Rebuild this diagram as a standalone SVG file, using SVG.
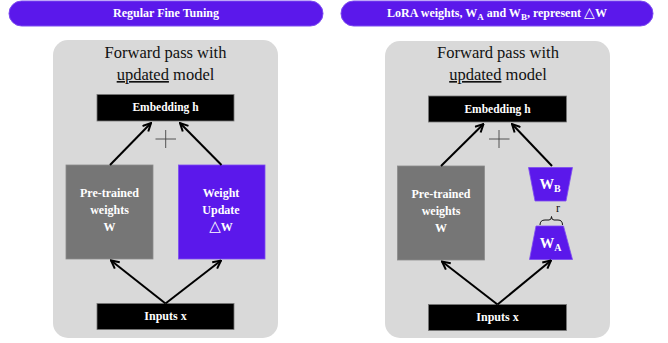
<svg xmlns="http://www.w3.org/2000/svg" width="668" height="343" viewBox="0 0 668 343">
<style>
.pill{fill:#5b18eb;stroke:#7d4cf0;stroke-width:1}
.hdr{font-family:"Liberation Serif",serif;font-weight:bold;font-size:12px;fill:#fff;text-anchor:middle}
.panel{fill:#d9d9d9}
.title{font-family:"Liberation Serif",serif;font-size:16.5px;fill:#111;text-anchor:middle}
.blk{fill:#000;stroke:#777;stroke-width:0.8}
.gry{fill:#767676;stroke:#8c8c8c;stroke-width:0.8}
.pur{fill:#5b18eb;stroke:#7d4cf0;stroke-width:0.8}
.lbl{font-family:"Liberation Serif",serif;font-weight:bold;font-size:12px;fill:#fff;text-anchor:middle}
.emb{font-family:"Liberation Serif",serif;font-weight:bold;font-size:11.5px;fill:#fff;text-anchor:middle}
.tri{font-family:"DejaVu Sans",sans-serif;font-weight:normal}
.wl{font-family:"Liberation Serif",serif;font-weight:bold;font-size:14.5px;fill:#fff;text-anchor:middle}
.conn{stroke:#000;stroke-width:2;fill:none;marker-end:url(#ah)}
.plus{stroke:#444;stroke-width:0.9;fill:none}
</style>
<defs>
<marker id="ah" viewBox="0 0 10 10" refX="9" refY="5" markerWidth="5" markerHeight="5" orient="auto" markerUnits="strokeWidth">
<path d="M1,1 L9,5 L1,9" fill="none" stroke="#000" stroke-width="2"/>
</marker>
</defs>

<g id="header-left">
<rect class="pill" x="9" y="1" width="314" height="25" rx="12.5"/>
<text class="hdr" x="166" y="17">Regular Fine Tuning</text>
</g>
<g id="header-right">
<rect class="pill" x="341" y="1" width="312" height="25" rx="12.5"/>
<text class="hdr" x="497" y="17">LoRA weights, W<tspan font-size="9" dy="3">A</tspan><tspan dy="-3"> and W</tspan><tspan font-size="9" dy="3">B</tspan><tspan dy="-3">, represent </tspan><tspan class="tri" font-size="14">△</tspan>W</text>
</g>

<g id="panel-left">
<rect class="panel" x="53" y="40" width="225" height="298" rx="15"/>
<text class="title" x="165.5" y="58">Forward pass with</text>
<text class="title" x="165.5" y="80"><tspan text-decoration="underline">updated</tspan> model</text>
</g>
<g id="panel-right">
<rect class="panel" x="385" y="41" width="225" height="297" rx="15"/>
<text class="title" x="498" y="58">Forward pass with</text>
<text class="title" x="498" y="80"><tspan text-decoration="underline">updated</tspan> model</text>
</g>

<g id="embedding-left">
<rect class="blk" x="97" y="94.5" width="137" height="26.5"/>
<text class="emb" x="165.5" y="111">Embedding h</text>
</g>
<g id="pretrained-left">
<rect class="gry" x="66" y="165" width="87" height="94"/>
<text class="lbl" x="109.5" y="197">Pre-trained</text>
<text class="lbl" x="109.5" y="214">weights</text>
<text class="lbl" x="109.5" y="231">W</text>
</g>
<g id="update-left">
<rect class="pur" x="178.5" y="165" width="86.5" height="94"/>
<text class="lbl" x="221" y="197">Weight</text>
<text class="lbl" x="221" y="214">Update</text>
<text class="lbl" x="221" y="231"><tspan class="tri" font-size="15">△</tspan>W</text>
</g>
<g id="inputs-left">
<rect class="blk" x="97" y="303.5" width="137" height="26"/>
<text class="lbl" x="165.5" y="320">Inputs x</text>
</g>
<g id="plus-left">
<path class="plus" d="M155.5,139 H176 M165.7,130 V148"/>
</g>

<g id="embedding-right">
<rect class="blk" x="428.5" y="96" width="138" height="26"/>
<text class="emb" x="497.5" y="112.5">Embedding h</text>
</g>
<g id="pretrained-right">
<rect class="gry" x="397.5" y="166" width="87" height="94"/>
<text class="lbl" x="441" y="198">Pre-trained</text>
<text class="lbl" x="441" y="215">weights</text>
<text class="lbl" x="441" y="232">W</text>
</g>
<g id="wb">
<polygon class="pur" points="528.5,167.5 572.5,167.5 566,201 535,201"/>
<text class="wl" x="550" y="189">W<tspan font-size="10" dy="3">B</tspan></text>
</g>
<g id="rank">
<text font-family="Liberation Serif,serif" font-size="12" fill="#111" x="558" y="212" text-anchor="middle">r</text>
<path d="M540,225 Q540,220 545,220 L549,220 Q551.5,220 551.5,216.5 Q551.5,220 554,220 L558,220 Q562.5,220 562.5,225" fill="none" stroke="#111" stroke-width="1"/>
</g>
<g id="wa">
<polygon class="pur" points="536,226 563.5,226 572.5,259.5 529.5,259.5"/>
<text class="wl" x="550.5" y="248">W<tspan font-size="10" dy="3">A</tspan></text>
</g>
<g id="inputs-right">
<rect class="blk" x="428.5" y="304.5" width="138" height="26"/>
<text class="lbl" x="497.5" y="321">Inputs x</text>
</g>
<g id="plus-right">
<path class="plus" d="M489,139 H509.5 M499,130 V148"/>
</g>

<g id="connectors">
<line class="conn" x1="110" y1="165" x2="151" y2="123"/>
<line class="conn" x1="221.5" y1="165" x2="180" y2="123"/>
<line class="conn" x1="165.5" y1="303.5" x2="111" y2="260.5"/>
<line class="conn" x1="165.5" y1="303.5" x2="221" y2="260.5"/>
<line class="conn" x1="441" y1="166" x2="483.5" y2="124"/>
<line class="conn" x1="552" y1="166" x2="512" y2="124"/>
<line class="conn" x1="497.5" y1="304.5" x2="442" y2="261.5"/>
<line class="conn" x1="497.5" y1="304.5" x2="551" y2="260.5"/>
</g>
</svg>
